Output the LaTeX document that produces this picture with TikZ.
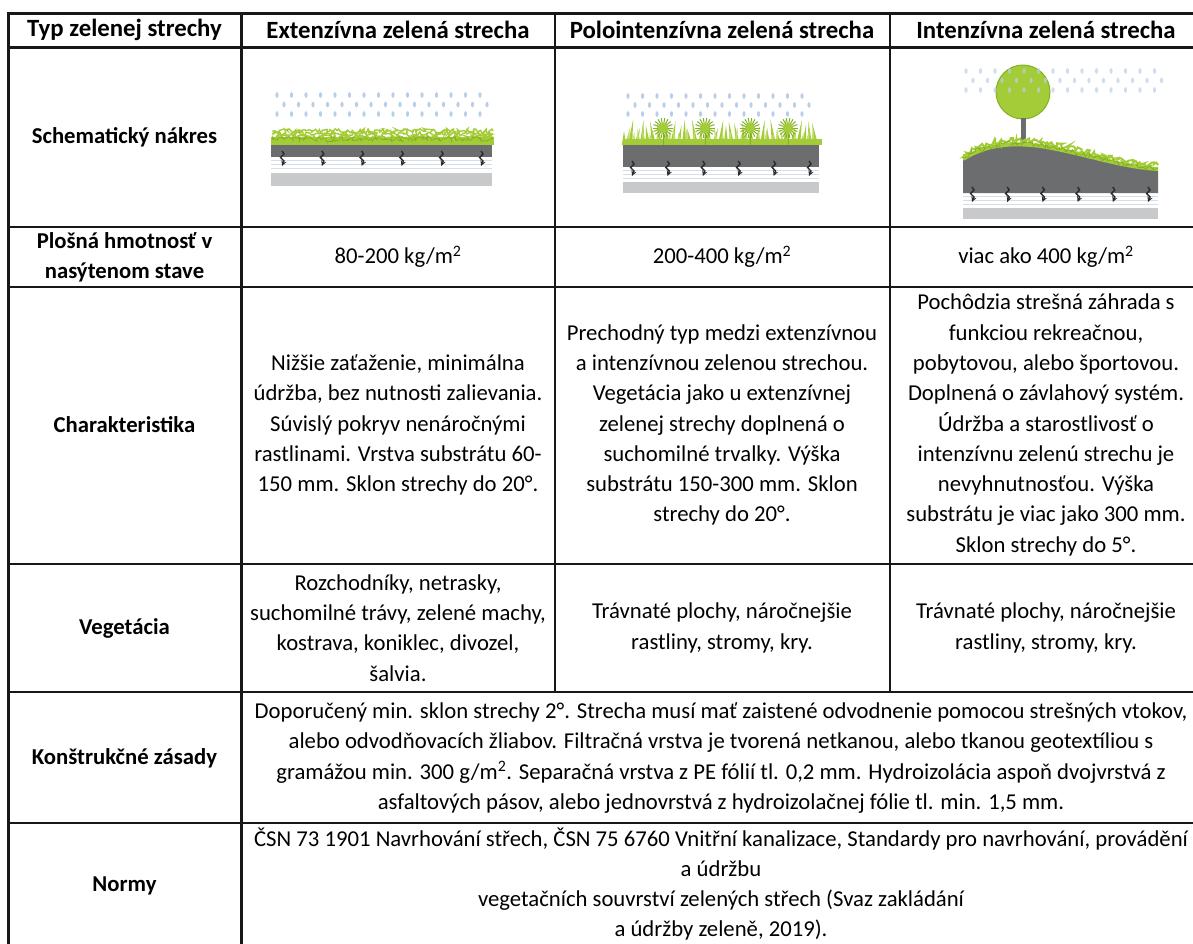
\documentclass[tikz,border=0pt]{standalone}
\usepackage{fontspec}
\setmainfont{Carlito}
\usepackage{tikz}
\usetikzlibrary{calc}
\usetikzlibrary{decorations.pathmorphing}
\usetikzlibrary{positioning}

\definecolor{rainBlue}{HTML}{B9CEE8}
\definecolor{grassGreen}{HTML}{A3CC38}
\definecolor{grassDark}{HTML}{82B224}
\definecolor{grassLight}{HTML}{C2DE6A}
\definecolor{soilGray}{HTML}{6C6D6F}
\definecolor{baseGray}{HTML}{C8C9CB}
\definecolor{drainLine}{HTML}{D3E0EC}
\definecolor{drainDark}{HTML}{2B2B2B}
\definecolor{gridBlack}{HTML}{181818}

\begin{document}
\begin{tikzpicture}[x=1pt, y=-1pt,
		cellText/.style={align=center, inner sep=0pt, font=\fontsize{22.7}{30.3}\selectfont},
		labelText/.style={cellText, font=\fontsize{22.7}{30.3}\selectfont\bfseries},
		headText/.style={cellText, font=\fontsize{24.8}{30.3}\selectfont\bfseries},
		thinLine/.style={gridBlack, line width=1.6pt},
		thickLine/.style={gridBlack, line width=3pt},
		dropStyle/.style={rainBlue},
		drainStyle/.style={drainDark, line width=1.4pt, -stealth},
		fuzzStyle/.style={decorate, decoration={random steps, segment length=1.5pt, amplitude=2.5pt}}]
			\useasboundingbox (0,0) rectangle (1193,943);
			\clip (0,0) rectangle (1193,943);
			\pgfmathsetseed{11}

			% Extenzivna roof
			\foreach \i in {0,...,14}
				\foreach \j in {0,1,2}
					\fill[dropStyle] ({277+14.5*\i+7*mod(\j,2)}, {95+9.5*\j}) ellipse (1.6pt and 2.8pt);
			\fill[grassGreen] (271,137) rectangle (494,145);
			\foreach \h in {131,134,137,140}
				\draw[grassGreen, line width=1.4pt, fuzzStyle] (272,\h) -- (493,\h);
			\draw[grassDark, line width=0.7pt, fuzzStyle] (272,139) -- (493,139);
			\fill[soilGray] (271,145) rectangle (492,157);
			\foreach \k in {0,1,2}
				\draw[drainLine, line width=0.8pt] (271,{160+4*\k}) -- (492,{160+4*\k});
			\fill[baseGray] (271,173) rectangle (492,186);
			\foreach \i in {0,...,5}
				\draw[drainStyle] ({282+39.8*\i},151) -- ++(2,3) -- ++(-3.5,3.5) -- ++(3.5,3.5) -- ++(-2,5);

			% Polointenzivna roof
			\foreach \i in {0,...,12}
				\foreach \j in {0,1,2}
					\fill[dropStyle] ({628+14.5*\i+7*mod(\j,2)}, {96+9*\j}) ellipse (1.6pt and 2.8pt);
			\foreach \k in {0,...,32}
				\fill[grassGreen] ({624+6*\k-2.2},145) -- ({624+6*\k+4*sin(\k*53)},{131-12*abs(sin(\k*97))}) -- ({624+6*\k+2.2},145) -- cycle;
			\foreach \k in {0,...,31}
				\fill[grassLight] ({627+6*\k-2},145) -- ({627+6*\k+3*cos(\k*61)},{134-7*abs(cos(\k*71))}) -- ({627+6*\k+2},145) -- cycle;
			\fill[grassGreen] (623,139) rectangle (822,145);
			\foreach \fx in {663,705,750,788} {
				\draw[grassDark, line width=1pt] (\fx,128) -- (\fx,145);
				\foreach \a in {0,20,...,340}
					\draw[grassDark, line width=1pt] (\fx,128) -- ++(\a:10pt);
				\fill[grassGreen] (\fx,128) circle (5pt);
			}
			\fill[soilGray] (623,145) rectangle (819,167);
			\foreach \k in {0,1,2}
				\draw[drainLine, line width=0.8pt] (623,{170+4*\k}) -- (819,{170+4*\k});
			\fill[baseGray] (623,182) rectangle (819,193);
			\foreach \i in {0,...,5}
				\draw[drainStyle] ({632+35.4*\i},161) -- ++(2,3) -- ++(-3.5,3.5) -- ++(3.5,3.5) -- ++(-2,5);

			% Intenzivna roof
			\fill[grassGreen] (1023,92) circle (27pt);
			\draw[grassDark, line width=1pt] (1023,92) circle (27pt);
			\foreach \i in {0,...,13}
				\foreach \j in {0,1,2}
					\fill[dropStyle, opacity=0.7] ({966+14.5*\i+7*mod(\j,2)}, {71+9.5*\j}) ellipse (1.6pt and 2.8pt);
			\fill[soilGray] (1020.5,118) rectangle (1025.5,148);
			\fill[soilGray] (963,193) -- (963,160) .. controls (985,146) and (1010,143) .. (1040,147) .. controls (1080,153) and (1120,168) .. (1158,170) -- (1158,193) -- cycle;
			\draw[grassGreen, line width=4pt] (963,159) .. controls (985,145) and (1010,142) .. (1040,146) .. controls (1080,152) and (1120,167) .. (1158,169);
			\draw[grassGreen, line width=2pt, fuzzStyle] (963,155) .. controls (985,141) and (1010,138) .. (1040,142) .. controls (1080,148) and (1120,163) .. (1158,165);
			\draw[grassDark, line width=0.7pt, fuzzStyle] (963,158) .. controls (985,144) and (1010,141) .. (1040,145) .. controls (1080,151) and (1120,166) .. (1158,168);
			\foreach \k in {0,1,2}
				\draw[drainLine, line width=0.8pt] (963,{196+4*\k}) -- (1158,{196+4*\k});
			\fill[baseGray] (963,208) rectangle (1158,219);
			\foreach \i in {0,...,5}
				\draw[drainStyle] ({972+35.2*\i},187) -- ++(2,3) -- ++(-3.5,3.5) -- ++(3.5,3.5) -- ++(-2,5);

			% Grid
			\draw[thickLine] (8,13) -- (1202,13);
			\draw[thickLine] (8,47) -- (1202,47);
			\foreach \y in {227,287,564,692,823}
				\draw[thinLine] (8,\y) -- (1202,\y);
			\draw[thickLine] (8,11.5) -- (8,950);
			\draw[thickLine] (241,13) -- (241,950);
			\draw[thinLine] (555,13) -- (555,692);
			\draw[thinLine] (890,13) -- (890,692);

			% Header
			\node[headText] (typHead) at (124.5,30) {Typ zelenej strechy};
			\node[headText] (extHead) at (398,30) {Extenzívna zelená strecha};
			\node[headText] (polHead) at (722,30) {Polointenzívna zelená strecha};
			\node[headText] (intHead) at (1046,30) {Intenzívna zelená strecha};

			% Row labels
			\node[labelText] (schemLabel) at (124.5,137) {Schematický nákres};
			\node[labelText] (massLabel) at (124.5,257) {Plošná hmotnosť v\\nasýtenom stave};
			\node[labelText] (charLabel) at (124.5,425) {Charakteristika};
			\node[labelText] (vegLabel) at (124.5,628) {Vegetácia};
			\node[labelText] (constLabel) at (124.5,758) {Konštrukčné zásady};
			\node[labelText] (normLabel) at (124.5,886) {Normy};

			% Mass row
			\node[cellText] (extMass) at (398,257) {80-200 kg/m\textsuperscript{2}};
			\node[cellText] (polMass) at (722,257) {200-400 kg/m\textsuperscript{2}};
			\node[cellText] (intMass) at (1046,257) {viac ako 400 kg/m\textsuperscript{2}};

			% Characteristics row
			\node[cellText] (extChar) at (398,425) {Nižšie zaťaženie, minimálna\\údržba, bez nutnosti zalievania.\\Súvislý pokryv nenáročnými\\rastlinami. Vrstva substrátu 60-\\150 mm. Sklon strechy do 20°.};
			\node[cellText] (polChar) at (722,425) {Prechodný typ medzi extenzívnou\\a intenzívnou zelenou strechou.\\Vegetácia jako u extenzívnej\\zelenej strechy doplnená o\\suchomilné trvalky. Výška\\substrátu 150-300 mm. Sklon\\strechy do 20°.};
			\node[cellText] (intChar) at (1046,425) {Pochôdzia strešná záhrada s\\funkciou rekreačnou,\\pobytovou, alebo športovou.\\Doplnená o závlahový systém.\\Údržba a starostlivosť o\\intenzívnu zelenú strechu je\\nevyhnutnosťou. Výška\\substrátu je viac jako 300 mm.\\Sklon strechy do 5°.};

			% Vegetation row
			\node[cellText] (extVeg) at (398,628) {Rozchodníky, netrasky,\\suchomilné trávy, zelené machy,\\kostrava, koniklec, divozel,\\šalvia.};
			\node[cellText] (polVeg) at (722,628) {Trávnaté plochy, náročnejšie\\rastliny, stromy, kry.};
			\node[cellText] (intVeg) at (1046,628) {Trávnaté plochy, náročnejšie\\rastliny, stromy, kry.};

			% Merged rows
			\node[cellText] (constText) at (721,758) {Doporučený min. sklon strechy 2°. Strecha musí mať zaistené odvodnenie pomocou strešných vtokov,\\alebo odvodňovacích žliabov. Filtračná vrstva je tvorená netkanou, alebo tkanou geotextíliou s\\gramážou min. 300 g/m\textsuperscript{2}. Separačná vrstva z PE fólií tl. 0,2 mm. Hydroizolácia aspoň dvojvrstvá z\\asfaltových pásov, alebo jednovrstvá z hydroizolačnej fólie tl. min. 1,5 mm.};
			\node[cellText] (normText) at (721,884) {ČSN 73 1901 Navrhování střech, ČSN 75 6760 Vnitřní kanalizace, Standardy pro navrhování, provádění\\a údržbu\\vegetačních souvrství zelených střech (Svaz zakládání\\a údržby zeleně, 2019).};

		\end{tikzpicture}
\end{document}
